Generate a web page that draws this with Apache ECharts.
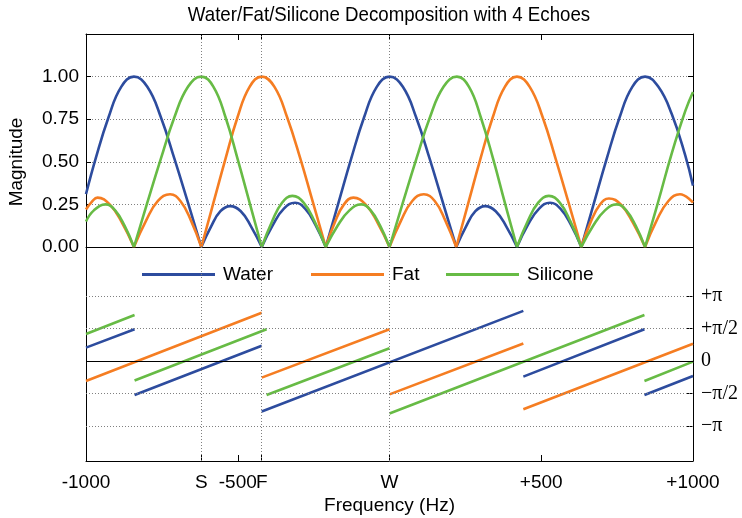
<!DOCTYPE html>
<html><head><meta charset="utf-8">
<script src="https://cdn.jsdelivr.net/npm/echarts@6/dist/echarts.min.js"></script>
<style>html,body{margin:0;padding:0;background:#fff}#c{width:742px;height:518px}</style>
</head><body><div id="c"></div>
<script>
// ---- tick positions / labels ----
const xTickValues = [-1000, -620, -500, -421, 0, 500, 1000];
const xTickLabels = ['-1000', 'S', '-500', 'F', 'W', '+500', '+1000'];
const xGridValues = [-620, -421, 0];
const phaseTickValues = [-2, -1, 0, 1, 2];          // units of pi/2
const phaseTickLabels = ['\u2212\u03c0', '\u2212\u03c0/2', '0', '+\u03c0/2', '+\u03c0'];
const seriesNames = ['Water', 'Fat', 'Silicone'];
const seriesColors = ['#2d4c9e', '#f57d22', '#67bb45'];

// ---- magnitude (each sub-array = one arch between zeros) ----
const waterMag = [
  [[-1000,0.31],[-968,0.52],[-926,0.76],[-884,0.94],[-842,1.0],[-798,0.94],[-753,0.76],[-709,0.52],[-664,0.26],[-620,0]],
  [[-620,0],[-588,0.12],[-557,0.21],[-525,0.24],[-490,0.21],[-456,0.12],[-421,0]],
  [[-421,0],[-384,0.13],[-348,0.225],[-311,0.26],[-278,0.225],[-244,0.13],[-210,0]],
  [[-210,0],[-168,0.26],[-126,0.52],[-84,0.76],[-42,0.94],[0,1.0],[44,0.94],[88,0.76],[132,0.52],[176,0.26],[220,0]],
  [[220,0],[252,0.12],[283,0.21],[315,0.24],[350,0.21],[385,0.12],[420,0]],
  [[420,0],[456,0.13],[493,0.225],[529,0.26],[563,0.225],[598,0.13],[632,0]],
  [[632,0],[674,0.26],[716,0.52],[758,0.76],[800,0.94],[842,1.0],[886,0.94],[930,0.78],[974,0.54],[1000,0.36]]
];
const fatMag = [
  [[-1000,0.22],[-981,0.265],[-962,0.29],[-922,0.25],[-882,0.145],[-842,0]],
  [[-842,0],[-802,0.155],[-763,0.27],[-723,0.31],[-689,0.27],[-654,0.155],[-620,0]],
  [[-620,0],[-580,0.26],[-540,0.52],[-501,0.76],[-461,0.94],[-421,1.0],[-379,0.94],[-337,0.76],[-294,0.52],[-252,0.26],[-210,0]],
  [[-210,0],[-180,0.145],[-150,0.25],[-119,0.29],[-79,0.25],[-40,0.145],[0,0]],
  [[0,0],[38,0.155],[75,0.27],[113,0.31],[149,0.27],[184,0.155],[220,0]],
  [[220,0],[260,0.26],[300,0.52],[340,0.76],[380,0.94],[420,1.0],[462,0.94],[505,0.76],[547,0.52],[590,0.26],[632,0]],
  [[632,0],[662,0.143],[693,0.248],[723,0.285],[763,0.248],[802,0.143],[842,0]],
  [[842,0],[880,0.155],[919,0.27],[957,0.31],[1000,0.26]]
];
const siliconeMag = [
  [[-1000,0.15],[-974,0.215],[-935,0.25],[-904,0.215],[-873,0.125],[-842,0]],
  [[-842,0],[-798,0.26],[-753,0.52],[-709,0.76],[-664,0.94],[-620,1.0],[-580,0.94],[-540,0.76],[-501,0.52],[-461,0.26],[-421,0]],
  [[-421,0],[-387,0.15],[-354,0.26],[-320,0.30],[-283,0.26],[-247,0.15],[-210,0]],
  [[-210,0],[-171,0.125],[-132,0.215],[-93,0.25],[-62,0.215],[-31,0.125],[0,0]],
  [[0,0],[44,0.26],[89,0.52],[133,0.76],[178,0.94],[222,1.0],[262,0.94],[301,0.76],[341,0.52],[380,0.26],[420,0]],
  [[420,0],[455,0.15],[490,0.26],[525,0.30],[561,0.26],[596,0.15],[632,0]],
  [[632,0],[671,0.125],[710,0.215],[749,0.25],[780,0.215],[811,0.125],[842,0]],
  [[842,0],[886,0.27],[930,0.55],[975,0.80],[1000,0.91]]
];

// ---- phase (units of pi/2; each sub-array = one straight piece) ----
const waterPhase = [
  [[-1000,0.41],[-840,0.975]],
  [[-840,-1.046],[-421,0.47]],
  [[-421,-1.55],[441,1.54]],
  [[441,-0.48],[840,0.975]],
  [[840,-1.046],[1000,-0.46]]
];
const fatPhase = [
  [[-1000,-0.615],[-421,1.48]],
  [[-421,-0.51],[0,0.975]],
  [[0,-1.025],[441,0.54]],
  [[441,-1.48],[1000,0.53]]
];
const siliconePhase = [
  [[-1000,0.83],[-840,1.41]],
  [[-840,-0.6],[-405,0.975]],
  [[-405,-1.046],[0,0.39]],
  [[0,-1.61],[840,1.41]],
  [[840,-0.615],[1000,-0.02]]
];

const magSets = [waterMag, fatMag, siliconeMag];
const phaseSets = [waterPhase, fatPhase, siliconePhase];

function joinPieces(pieces) {
  const out = [];
  pieces.forEach((p, i) => {
    if (i > 0) out.push([p[0][0], null]);
    p.forEach(pt => out.push(pt));
  });
  return out;
}

const SANS = '"Liberation Sans", Arial, Helvetica, sans-serif';
const SERIF = '"Liberation Serif", "Times New Roman", serif';
const gridDot = { color: '#808080', width: 1, type: [1, 2] };
const black = { color: '#000', width: 1 };

const series = [];
series.push({
  type: 'line', xAxisIndex: 0, yAxisIndex: 0, data: [], silent: true, z: 1,
  markLine: { symbol: 'none', silent: true, animation: false, label: { show: false },
    lineStyle: gridDot, data: xGridValues.map(v => ({ xAxis: v })) }
});
series.push({
  type: 'line', xAxisIndex: 2, yAxisIndex: 3, data: [], silent: true, z: 1,
  markLine: { symbol: 'none', silent: true, animation: false, label: { show: false },
    lineStyle: gridDot,
    data: xGridValues.map(v => ({ xAxis: v }))
      .concat(phaseTickValues.filter(v => v !== 0).map(v => ({ yAxis: v })))
      .concat([{ yAxis: 0, lineStyle: { color: '#000', width: 1, type: 'solid' } }]) }
});
seriesNames.forEach((name, i) => {
  series.push({
    name, type: 'line', xAxisIndex: 0, yAxisIndex: 0, z: 3,
    data: joinPieces(magSets[i]), smooth: 0.45, connectNulls: false,
    symbol: 'none', showSymbol: false, color: seriesColors[i],
    lineStyle: { width: 2.6, color: seriesColors[i] }
  });
  series.push({
    name, type: 'line', xAxisIndex: 2, yAxisIndex: 3, z: 3,
    data: joinPieces(phaseSets[i]), smooth: false, connectNulls: false,
    symbol: 'none', showSymbol: false, color: seriesColors[i],
    lineStyle: { width: 2.6, color: seriesColors[i] }
  });
});

const legendLefts = [142, 311, 446];
const legend = seriesNames.map((n, i) => ({
  data: [n], left: legendLefts[i], top: 265, padding: 0, itemWidth: 73, itemHeight: 3,
  icon: 'rect', selectedMode: false,
  textStyle: { fontSize: 19, color: '#000', fontFamily: SANS, padding: [0, 0, 0, 3] }
}));

const chart = echarts.init(document.getElementById('c'), null, { renderer: 'canvas' });
chart.setOption({
  animation: false,
  backgroundColor: '#fff',
  graphic: [
    { type: 'text', x: 389, y: 15.5, scaleX: 0.89, style: { text: 'Water/Fat/Silicone Decomposition with 4 Echoes',
      fontSize: 21, fontFamily: SANS, fill: '#000', textAlign: 'center', textVerticalAlign: 'middle',
      align: 'center', verticalAlign: 'middle' } },
    { type: 'text', x: 17, y: 162, rotation: Math.PI / 2, style: { text: 'Magnitude',
      fontSize: 19, fontFamily: SANS, fill: '#000', textAlign: 'center', textVerticalAlign: 'middle',
      align: 'center', verticalAlign: 'middle' } }
  ],
  legend,
  grid: [
    { left: 86, right: 49, top: 34, height: 213, outerBoundsMode: 'none' },
    { left: 86, right: 49, top: 247, height: 214, outerBoundsMode: 'none' }
  ],
  xAxis: [
    { gridIndex: 0, type: 'value', min: -1000, max: 1000, position: 'bottom',
      axisLine: { show: true, onZero: false, lineStyle: black }, axisTick: { show: false },
      axisLabel: { show: false }, splitLine: { show: false } },
    { gridIndex: 0, type: 'value', min: -1000, max: 1000, position: 'top',
      axisLine: { show: true, onZero: false, lineStyle: black },
      axisTick: { show: true, inside: true, length: 6, customValues: xTickValues, lineStyle: black },
      axisLabel: { show: false }, splitLine: { show: false } },
    { gridIndex: 1, type: 'value', min: -1000, max: 1000, position: 'bottom',
      axisLine: { show: true, onZero: false, lineStyle: black },
      axisTick: { show: true, inside: true, length: 6, customValues: xTickValues, lineStyle: black },
      axisLabel: { show: true, customValues: xTickValues, margin: 12, fontSize: 19, color: '#000', fontFamily: SANS,
        formatter: v => { const k = xTickValues.indexOf(v); return k >= 0 ? xTickLabels[k] : ''; } },
      splitLine: { show: false },
      name: 'Frequency (Hz)', nameLocation: 'middle', nameGap: 35,
      nameTextStyle: { fontSize: 19, color: '#000', fontFamily: SANS } }
  ],
  yAxis: [
    { gridIndex: 0, type: 'value', min: 0, max: 1.25, interval: 0.25, position: 'left',
      axisLine: { show: true, onZero: false, lineStyle: black },
      axisTick: { show: true, inside: true, length: 5, lineStyle: black },
      axisLabel: { margin: 7, fontSize: 19, color: '#000', fontFamily: SANS,
        formatter: v => (v > 1.1 ? '' : v.toFixed(2)) },
      splitLine: { show: true, lineStyle: gridDot } },
    { gridIndex: 0, type: 'value', min: 0, max: 1.25, interval: 0.25, position: 'right',
      axisLine: { show: true, onZero: false, lineStyle: black },
      axisTick: { show: true, inside: true, length: 5, lineStyle: black },
      axisLabel: { show: false }, splitLine: { show: false } },
    { gridIndex: 1, type: 'value', min: -3.07, max: 3.5, position: 'left',
      axisLine: { show: true, onZero: false, lineStyle: black }, axisTick: { show: false },
      axisLabel: { show: false }, splitLine: { show: false } },
    { gridIndex: 1, type: 'value', min: -3.07, max: 3.5, position: 'right',
      axisLine: { show: true, onZero: false, lineStyle: black },
      axisTick: { show: true, inside: true, length: 6, customValues: phaseTickValues, lineStyle: black },
      axisLabel: { show: true, customValues: phaseTickValues, margin: 8, fontSize: 20, color: '#000', fontFamily: SERIF,
        formatter: v => { const k = phaseTickValues.indexOf(v); return k >= 0 ? phaseTickLabels[k] : ''; } },
      splitLine: { show: false } }
  ],
  series
});
</script>
</body></html>
